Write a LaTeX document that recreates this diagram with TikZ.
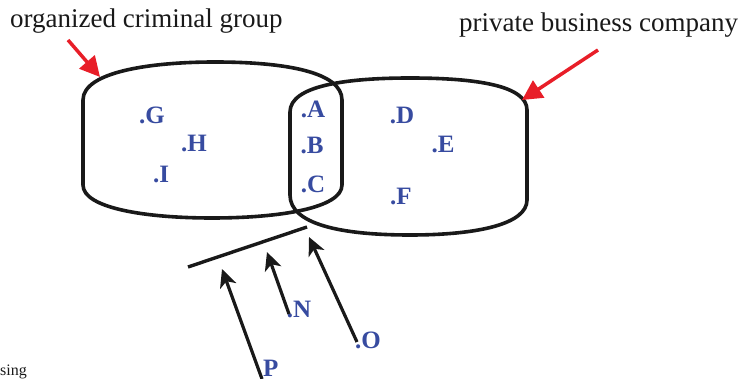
\documentclass[tikz,border=0pt]{standalone}
\usepackage{fontspec}
\setmainfont{Liberation Serif}
\usetikzlibrary{arrows.meta}
\definecolor{lblue}{RGB}{55,75,160}
\definecolor{pred}{RGB}{232,30,40}
\definecolor{ink}{RGB}{25,25,25}
\begin{document}
\begin{tikzpicture}[x=1pt,y=-1pt,
  setline/.style={line width=3.6pt, line join=round, ink},
  pt/.style={font=\fontsize{25}{25}\selectfont\bfseries, text=lblue, inner sep=0pt},
  title/.style={font=\fontsize{27}{27}\selectfont, text=ink, inner sep=0pt, anchor=base west},
  redarr/.style={pred, line width=3.5pt, -{Triangle[length=20pt,width=20pt]}},
  blkarr/.style={ink, line width=3.2pt, -{Stealth[length=18pt,width=17pt,inset=5pt]}}]
\useasboundingbox (0,0) rectangle (742,379);
% titles
\node[title] (tleft) at (10,28) {organized criminal group};
\node[title] (tright) at (459,32) {private business company};
\node[font=\fontsize{16}{16}\selectfont, text=ink, inner sep=0pt, anchor=base west] (sing) at (0,376) {sing};
% sets
\draw[setline] (83,185) -- (83,100) .. controls (83,72) and (150,62) .. (215,62)
  .. controls (285,62) and (342,72) .. (342,100) -- (342,185)
  .. controls (342,208) and (280,218) .. (212,218)
  .. controls (145,218) and (83,208) .. (83,185) -- cycle;
\draw[setline] (290,195) -- (290,112) .. controls (290,86) and (345,78) .. (410,78)
  .. controls (478,78) and (527,86) .. (527,110) -- (527,200)
  .. controls (527,224) and (478,235) .. (410,235)
  .. controls (340,235) and (290,224) .. (290,195) -- cycle;
% red arrows
\coordinate (rl0) at (68,40); \coordinate (rl1) at (100,77);
\coordinate (rr0) at (598,50); \coordinate (rr1) at (522,100);
\draw[redarr] (rl0) -- (rl1);
\draw[redarr] (rr0) -- (rr1);
% points
\node[pt] (G) at (152,115) {.G};
\node[pt] (H) at (194,143) {.H};
\node[pt] (I) at (161,174) {.I};
\node[pt] (A) at (313,109) {.A};
\node[pt] (B) at (312,145) {.B};
\node[pt] (C) at (313,184) {.C};
\node[pt] (D) at (402,115) {.D};
\node[pt] (E) at (443,144) {.E};
\node[pt] (F) at (401,196) {.F};
\node[pt] (N) at (299,309) {.N};
\node[pt] (O) at (368,340) {.O};
\node[pt, anchor=base west] (P) at (263,377) {P};
% bar and arrows
\coordinate (bar0) at (188,267); \coordinate (bar1) at (307,227);
\draw[setline, line width=3.4pt] (bar0) -- (bar1);
\coordinate (pt0) at (262,379); \coordinate (pt1) at (222,269);
\coordinate (nt0) at (289,314); \coordinate (nt1) at (267,252);
\coordinate (ot0) at (357,342); \coordinate (ot1) at (309,237);
\draw[blkarr] (pt0) -- (pt1);
\draw[blkarr] (nt0) -- (nt1);
\draw[blkarr] (ot0) -- (ot1);
\end{tikzpicture}
\end{document}
